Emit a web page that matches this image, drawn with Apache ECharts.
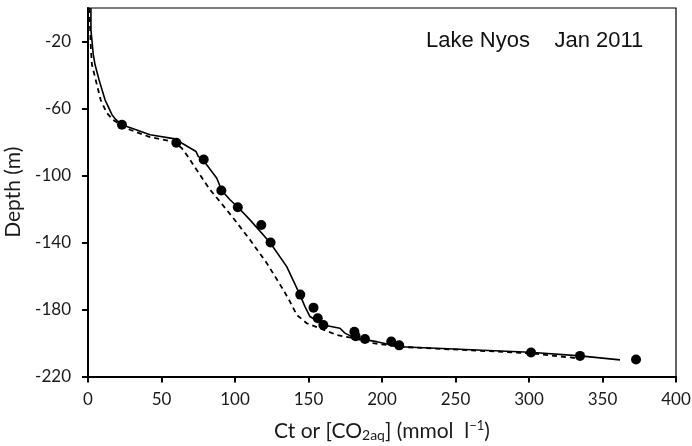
<!DOCTYPE html>
<html>
<head>
<meta charset="utf-8">
<script src="https://cdn.jsdelivr.net/npm/echarts@6/dist/echarts.min.js"></script>
<style>html,body{margin:0;padding:0;background:#fff;}#c{width:692px;height:446px;}</style>
</head>
<body>
<div id="c"></div>
<script>
// Solid profile (Ct), depth in m
const solidX = [2.0, 2.0, 3.6, 4.8, 7.5, 11.6, 16.3, 19.0, 23.1, 42.2, 60.3, 63.7, 73.5, 75.0, 78.2, 87.6, 91.0, 96.6, 102.2, 110.2, 123.8, 135.2, 144.2, 147.6, 151.0, 160.1, 171.4, 174.8, 181.6, 196.4, 212.2, 232.7, 300.7, 334.7, 361.9];
const solidDepth = [0, -13, -27.9, -33.9, -42.8, -54.8, -63.7, -66.7, -69.7, -75.7, -78.3, -80.6, -85.7, -88.6, -90.6, -101.6, -109, -114.5, -119.1, -126.5, -140, -154.4, -171.3, -178.3, -184.2, -189.2, -191.2, -194.1, -197.1, -199.2, -202.2, -203, -205.5, -207.7, -210.1];
// Dashed profile ([CO2aq])
const dashedX = [0.9, 2.0, 2.7, 5.2, 8.6, 12.7, 17.0, 21.8, 28.6, 42.2, 57.8, 63.7, 67.1, 73.9, 83.0, 87.6, 98.8, 110.2, 121.6, 132.9, 137.4, 142.0, 148.8, 157.8, 169.2, 180.5, 194.1, 212.2, 300.7, 332.7];
const dashedDepth = [0, -24.9, -33.9, -42.8, -54.8, -62.5, -66.7, -69.7, -72.7, -77.1, -79.7, -83.6, -87.6, -96.6, -108.5, -113.3, -125.4, -138.4, -152.3, -168.3, -175.3, -183.2, -188.2, -191.2, -195.2, -197.1, -200.1, -202.3, -206.1, -209.1];
// Measured points
const pointX = [23.1, 60.1, 78.7, 90.7, 101.9, 117.9, 124.2, 144.4, 153.4, 156.3, 160.1, 181.2, 182.0, 188.4, 206.3, 211.7, 301.4, 334.7, 372.8];
const pointDepth = [-69.7, -80.5, -90.4, -109, -119, -129.5, -140, -171.1, -178.9, -185.2, -189.3, -193.3, -195.9, -197.6, -199.1, -201.4, -205.7, -207.7, -209.9];
// Axis ticks
const xTicks = [0, 400, 50];
const yTicks = [-220, 0, 40];
const titleText = 'Lake Nyos    Jan 2011';

const zip = (a, b) => a.map((v, i) => [v, b[i]]);
const chart = echarts.init(document.getElementById('c'), null, {renderer: 'canvas'});
const lab = {fontFamily: 'Lato', fontSize: 17, color: '#1a1a1a'};
chart.setOption({
  animation: false,
  backgroundColor: '#fff',
  grid: {left: 88, right: 16, top: 8, bottom: 69.5, show: true, borderColor: '#000', borderWidth: 1.2,
         backgroundColor: 'transparent', containLabel: false, outerBoundsMode: 'none'},
  graphic: [{
    type: 'text', left: 426, top: 30,
    style: {text: titleText, fontFamily: 'Liberation Sans', fontSize: 22, fill: '#111'}
  }],
  xAxis: {
    type: 'value', min: xTicks[0], max: xTicks[1], interval: xTicks[2],
    splitLine: {show: false},
    axisLine: {show: true, onZero: false, lineStyle: {color: '#000', width: 2}},
    axisTick: {show: true, inside: false, length: 6, lineStyle: {color: '#000', width: 2}},
    axisLabel: Object.assign({margin: 15}, lab),
    name: '{a|Ct or [CO}{s|2aq}{a|] (mmol  l}{p|−1}{a|)}',
    nameLocation: 'middle', nameGap: 43,
    nameTextStyle: {
      rich: {
        a: {fontFamily: 'Lato', fontSize: 21, color: '#1a1a1a'},
        s: {fontFamily: 'Lato', fontSize: 14, color: '#1a1a1a', verticalAlign: 'bottom', padding: [9, 0, 0, 0]},
        p: {fontFamily: 'Lato', fontSize: 13, color: '#1a1a1a', verticalAlign: 'top', padding: [0, 0, 9, 0]}
      }
    }
  },
  yAxis: {
    type: 'value', min: yTicks[0], max: yTicks[1], interval: yTicks[2],
    splitLine: {show: false},
    axisLine: {show: true, onZero: false, lineStyle: {color: '#000', width: 2}},
    axisTick: {show: true, inside: false, length: 6, lineStyle: {color: '#000', width: 2}},
    axisLabel: Object.assign({margin: 17, showMaxLabel: false}, lab),
    name: 'Depth (m)', nameLocation: 'middle', nameGap: 52,
    nameTextStyle: {fontFamily: 'Lato', fontSize: 21, color: '#1a1a1a'}
  },
  series: [
    {type: 'line', data: zip(dashedX, dashedDepth), showSymbol: false, symbol: 'none',
     lineStyle: {color: '#000', width: 1.8, type: [5, 4]}, z: 2},
    {type: 'line', data: zip(solidX, solidDepth), showSymbol: false, symbol: 'none',
     lineStyle: {color: '#000', width: 1.6}, z: 3},
    {type: 'scatter', data: zip(pointX, pointDepth), symbol: 'circle', symbolSize: 10,
     itemStyle: {color: '#000', opacity: 1}, z: 4}
  ]
});
</script>
</body>
</html>
